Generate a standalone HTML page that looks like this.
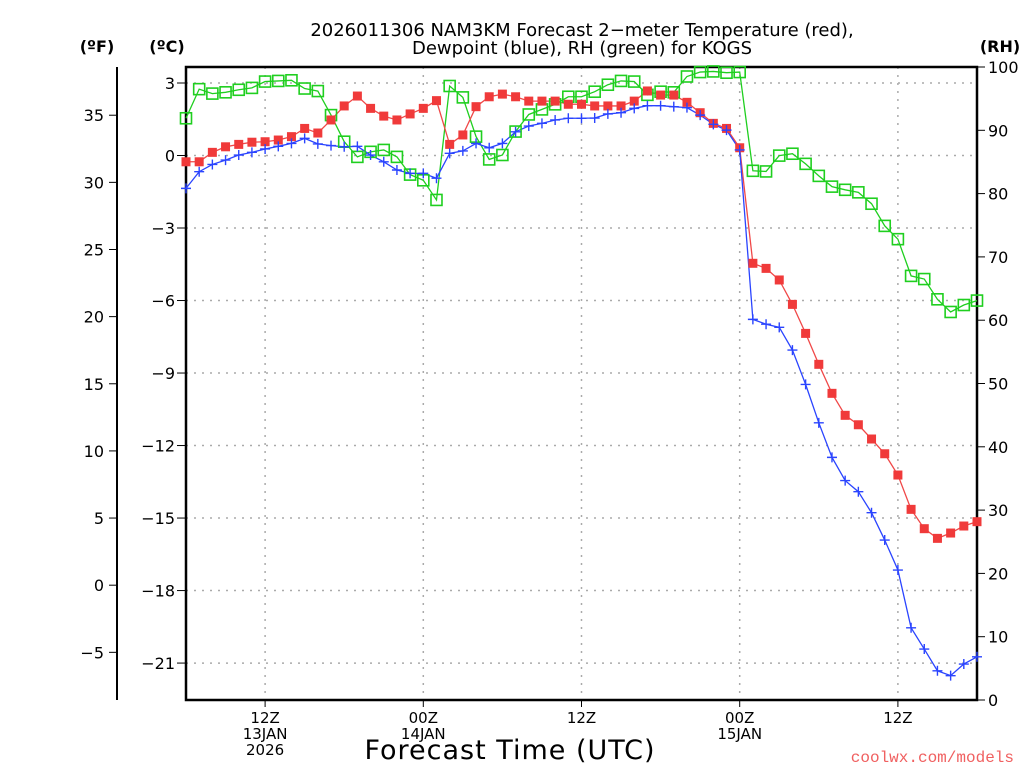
<!DOCTYPE html>
<html><head><meta charset="utf-8"><style>
body{margin:0;background:#fff;width:1024px;height:768px;overflow:hidden}
svg{font-family:"DejaVu Sans","Liberation Sans",sans-serif}
</style></head><body>
<svg id="c" width="1024" height="768" xmlns="http://www.w3.org/2000/svg">
<text x="582" y="36" font-size="18" text-anchor="middle">2026011306 NAM3KM Forecast 2−meter Temperature (red),</text>
<text x="582" y="54" font-size="18" text-anchor="middle">Dewpoint (blue), RH (green) for KOGS</text>
<text x="97" y="52" font-size="16" font-weight="bold" text-anchor="middle">(ºF)</text>
<text x="167" y="52" font-size="16" font-weight="bold" text-anchor="middle">(ºC)</text>
<text x="1000" y="52" font-size="16" font-weight="bold" text-anchor="middle">(RH)</text>
<text x="510" y="759" font-size="27" text-anchor="middle" letter-spacing="1">Forecast Time (UTC)</text>
<text x="1014" y="762" font-size="16" fill="#f06060" text-anchor="end" font-family="Liberation Mono, monospace">coolwx.com/models</text>
<g id="grid"></g><g id="axes"></g><g id="series"></g>
</svg>
<script>
const tempC=[-0.26,-0.26,0.13,0.36,0.46,0.55,0.57,0.64,0.78,1.12,0.93,1.47,2.05,2.46,1.95,1.63,1.47,1.72,1.95,2.27,0.46,0.85,2.02,2.43,2.54,2.43,2.25,2.25,2.25,2.12,2.12,2.05,2.05,2.05,2.25,2.67,2.5,2.5,2.2,1.77,1.33,1.12,0.32,-4.46,-4.67,-5.15,-6.16,-7.36,-8.64,-9.84,-10.75,-11.14,-11.73,-12.34,-13.22,-14.64,-15.44,-15.84,-15.62,-15.33,-15.15];
const dewC=[-1.36,-0.67,-0.37,-0.19,0.02,0.13,0.27,0.38,0.5,0.71,0.48,0.41,0.36,0.38,0.02,-0.26,-0.6,-0.74,-0.74,-0.94,0.09,0.19,0.5,0.32,0.5,0.98,1.22,1.33,1.47,1.54,1.54,1.55,1.72,1.77,1.95,2.06,2.06,2.02,1.98,1.67,1.29,1.05,0.23,-6.78,-6.98,-7.11,-8.05,-9.47,-11.06,-12.49,-13.45,-13.91,-14.78,-15.91,-17.15,-19.54,-20.42,-21.32,-21.52,-21.04,-20.74];
const rh=[91.9,96.5,95.8,96.0,96.4,96.7,97.7,97.8,97.9,96.6,96.2,92.4,88.2,85.8,86.6,86.9,85.8,83.0,82.1,79.0,97.0,95.2,89.0,85.4,86.1,89.8,92.5,93.3,94.1,95.3,95.3,96.1,97.2,97.8,97.7,95.6,96.1,96.0,98.5,99.2,99.3,99.1,99.2,83.6,83.5,86.0,86.3,84.7,82.8,81.1,80.6,80.2,78.4,74.9,72.8,67.0,66.5,63.3,61.3,62.4,63.1];
const cTicks=[3,0,-3,-6,-9,-12,-15,-18,-21];
const fTicks=[35,30,25,20,15,10,5,0,-5];
const rhTicks=[0,10,20,30,40,50,60,70,80,90,100];
const xTickHours=[6,18,30,42,54];
const xTickLabels=[["12Z","13JAN","2026"],["00Z","14JAN"],["12Z"],["00Z","15JAN"],["12Z"]];
const L=186,R=977,T=67,B=700;
const xh=h=>L+(R-L)*h/60;
const yC=c=>155.5-c*24.17;
const yF=f=>yC((f-32)*5/9);
const yR=r=>B-(B-T)*r/100;
const NS="http://www.w3.org/2000/svg";
function mk(p,t,a){const e=document.createElementNS(NS,t);for(const k in a)e.setAttribute(k,a[k]);p.appendChild(e);return e;}
const grid=document.getElementById('grid'),axes=document.getElementById('axes'),ser=document.getElementById('series');
cTicks.forEach(c=>{
 const g=mk(grid,'line',{x1:L,x2:R,y1:yC(c),y2:yC(c),stroke:'#aaa','stroke-dasharray':'2,6','stroke-width':1.5});
 
 
 const t=mk(axes,'line',{x1:L-9,x2:L,y1:yC(c),y2:yC(c),stroke:'#000'});
 
 
 const tx=mk(axes,'text',{x:L-11,y:yC(c)+6,'font-size':16,'text-anchor':'end'});
 tx.textContent=(c<0?'−'+(-c):c);
 
 
});
xTickHours.forEach((h,i)=>{
 const g=mk(grid,'line',{x1:xh(h),x2:xh(h),y1:T,y2:B,stroke:'#aaa','stroke-dasharray':'2,6','stroke-width':1.5});
 
 
 const t=mk(axes,'line',{x1:xh(h),x2:xh(h),y1:B,y2:B+7,stroke:'#000'});
 
 
 xTickLabels[i].forEach((s,j)=>{
  const tx=mk(axes,'text',{x:xh(h),y:B+23+j*16,'font-size':15,'text-anchor':'middle'});
  tx.textContent=s;
  
  
 });
});
const fl=mk(axes,'line',{x1:117,x2:117,y1:T,y2:B,stroke:'#000','stroke-width':2});


fTicks.forEach(f=>{
 const t=mk(axes,'line',{x1:109,x2:117,y1:yF(f),y2:yF(f),stroke:'#000'});
 
 
 const tx=mk(axes,'text',{x:104,y:yF(f)+6,'font-size':16,'text-anchor':'end'});
 tx.textContent=(f<0?'−'+(-f):f);
 
 
});
rhTicks.forEach(r=>{
 const t=mk(axes,'line',{x1:R,x2:R+8,y1:yR(r),y2:yR(r),stroke:'#000'});
 
 
 const tx=mk(axes,'text',{x:R+11,y:yR(r)+6,'font-size':16,'text-anchor':'start'});
 tx.textContent=r;
 
 
});
const fr=mk(axes,'path',{d:`M${L},${B} L${L},${T} L${R},${T} L${R},${B} Z`,fill:'none',stroke:'#000','stroke-width':2.5});


function line(vals,yf,color,name){
 const p=mk(ser,'polyline',{points:vals.map((v,i)=>xh(i)+','+yf(v)).join(' '),fill:'none',stroke:color,'stroke-width':1.3});
 
 
}
line(rh,yR,'#1fcf1f','rh');
line(tempC,yC,'#f04848','temperature');
line(dewC,yC,'#2a44ff','dewpoint');
rh.forEach((v,i)=>{const m=mk(ser,'rect',{x:xh(i)-5.5,y:yR(v)-5.5,width:11,height:11,fill:'none',stroke:'#1fcf1f','stroke-width':1.6});
 
 });
tempC.forEach((v,i)=>{const m=mk(ser,'rect',{x:xh(i)-4.5,y:yC(v)-4.5,width:9,height:9,fill:'#f03a3a'});
 
 });
dewC.forEach((v,i)=>{const x=xh(i),y=yC(v);const m=mk(ser,'path',{d:`M${x-5},${y}H${x+5}M${x},${y-5}V${y+5}`,stroke:'#2a44ff','stroke-width':1.4});
 
 });
</script>
</body></html>
